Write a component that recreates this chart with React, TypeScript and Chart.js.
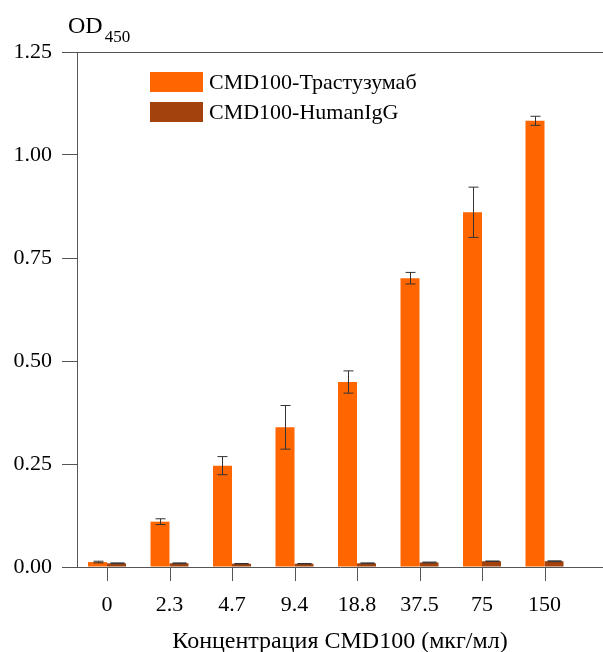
import React, { useEffect, useRef } from "react";
import { Chart, registerables } from "chart.js";

Chart.register(...registerables);

const xLabels = ["0", "2.3", "4.7", "9.4", "18.8", "37.5", "75", "150"];
const seriesNames = ["CMD100-Трастузумаб", "CMD100-HumanIgG"];
const trastuzumabValues = [0.012, 0.110, 0.246, 0.339, 0.449, 0.701, 0.861, 1.083];
const trastuzumabErrors = [0.002, 0.007, 0.022, 0.053, 0.027, 0.014, 0.061, 0.011];
const humanIgGValues = [0.009, 0.009, 0.008, 0.008, 0.009, 0.011, 0.014, 0.014];
const humanIgGErrors = [0.001, 0.001, 0.0005, 0.0005, 0.001, 0.001, 0.0005, 0.001];
const yTicks = [0, 0.25, 0.5, 0.75, 1.0, 1.25];
const xTitle = "Концентрация CMD100 (мкг/мл)";
const yTitleMain = "OD";
const yTitleSub = "450";

const ORANGE = "#FF6600";
const BROWN = "#A3420C";
const AXIS = "#555555";
const FONT = "'Liberation Serif', 'Times New Roman', serif";

const errorsByDataset = [trastuzumabErrors, humanIgGErrors];
const capWidths = [10, 14];

const errorBarPlugin = {
  id: "errorBars",
  afterDatasetsDraw(chart: any) {
    const ctx = chart.ctx;
    const yScale = chart.scales.y;
    chart.data.datasets.forEach((ds: any, di: number) => {
      const meta = chart.getDatasetMeta(di);
      const errs = errorsByDataset[di];
      meta.data.forEach((el: any, i: number) => {
        const v = ds.data[i].y;
        const e = errs[i];
        const x = Math.round(el.x) + 0.5;
        const yt = yScale.getPixelForValue(v + e);
        const yb = yScale.getPixelForValue(v - e);
        const hw = capWidths[di] / 2;
        ctx.save();
        ctx.strokeStyle = "#333333";
        ctx.lineWidth = 1;
        ctx.beginPath();
        ctx.moveTo(x, yt);
        ctx.lineTo(x, yb);
        ctx.moveTo(x - hw, yt);
        ctx.lineTo(x + hw, yt);
        ctx.moveTo(x - hw, yb);
        ctx.lineTo(x + hw, yb);
        ctx.stroke();
        ctx.restore();
      });
    });
  },
};

const decorPlugin = {
  id: "decor",
  afterDraw(chart: any) {
    const ctx = chart.ctx;
    const area = chart.chartArea;
    const xScale = chart.scales.x;
    ctx.save();
    ctx.strokeStyle = AXIS;
    ctx.lineWidth = 1;
    ctx.beginPath();
    ctx.moveTo(area.left, Math.round(area.top) + 0.5);
    ctx.lineTo(chart.width, Math.round(area.top) + 0.5);
    xLabels.forEach((_, i) => {
      const px = Math.round(xScale.getPixelForValue(i)) + 0.5;
      ctx.moveTo(px, area.bottom);
      ctx.lineTo(px, area.bottom + 14);
    });
    ctx.stroke();

    ctx.fillStyle = "#000";
    ctx.textBaseline = "alphabetic";
    ctx.textAlign = "left";
    ctx.font = `24px ${FONT}`;
    ctx.fillText(yTitleMain, 68, 33);
    const w = ctx.measureText(yTitleMain).width;
    ctx.font = `17px ${FONT}`;
    ctx.fillText(yTitleSub, 68 + w + 2, 42);

    const colors = [ORANGE, BROWN];
    const boxTops = [72, 102];
    ctx.font = `22px ${FONT}`;
    ctx.textBaseline = "middle";
    seriesNames.forEach((name, i) => {
      ctx.fillStyle = colors[i];
      ctx.fillRect(150, boxTops[i], 53, 20);
      ctx.fillStyle = "#000";
      ctx.fillText(name, 209, boxTops[i] + 11);
    });
    ctx.restore();
  },
};

export default function App() {
  const ref = useRef<HTMLCanvasElement>(null);

  useEffect(() => {
    if (!ref.current) return;
    const chart = new Chart(ref.current, {
      type: "bar",
      data: {
        datasets: [
          {
            label: seriesNames[0],
            data: trastuzumabValues.map((v, i) => ({ x: i, y: v })),
            backgroundColor: ORANGE,
            categoryPercentage: 0.608,
            barPercentage: 1,
          },
          {
            label: seriesNames[1],
            data: humanIgGValues.map((v, i) => ({ x: i, y: v })),
            backgroundColor: BROWN,
            categoryPercentage: 0.608,
            barPercentage: 1,
          },
        ],
      },
      options: {
        responsive: false,
        animation: false,
        devicePixelRatio: 1,
        layout: { padding: { top: 52, left: 0, right: 0, bottom: 0 } },
        plugins: {
          legend: { display: false },
          tooltip: { enabled: false },
        },
        scales: {
          x: {
            type: "linear",
            min: -0.48,
            max: 7.936,
            offset: false,
            afterBuildTicks: (scale: any) => {
              scale.ticks = xLabels.map((_, i) => ({ value: i }));
            },
            afterFit: (scale: any) => {
              scale.height = 85;
            },
            ticks: {
              autoSkip: false,
              maxRotation: 0,
              padding: 17,
              color: "#000",
              font: { family: FONT, size: 22 },
              callback: (v: any) => xLabels[v] ?? "",
            },
            grid: {
              display: false,
            },
            border: { display: true, color: AXIS, width: 1 },
            title: {
              display: true,
              text: xTitle,
              color: "#000",
              font: { family: FONT, size: 24 },
              padding: { top: 0, bottom: -4 },
            },
          },
          y: {
            min: 0,
            max: 1.25,
            afterBuildTicks: (scale: any) => {
              scale.ticks = yTicks.map((v) => ({ value: v }));
            },
            afterFit: (scale: any) => {
              scale.width = 77;
            },
            ticks: {
              padding: 10,
              color: "#000",
              font: { family: FONT, size: 22 },
              callback: (v: any) => Number(v).toFixed(2),
            },
            grid: {
              drawOnChartArea: false,
              drawTicks: true,
              tickLength: 15,
              color: AXIS,
            },
            border: { display: true, color: AXIS, width: 1 },
          },
        },
      },
      plugins: [errorBarPlugin, decorPlugin],
    });
    return () => chart.destroy();
  }, []);

  return (
    <div style={{ position: "absolute", left: 0, top: 0, width: 603, height: 652, background: "#fff" }}>
      <canvas ref={ref} width={603} height={652} style={{ display: "block" }} />
    </div>
  );
}
